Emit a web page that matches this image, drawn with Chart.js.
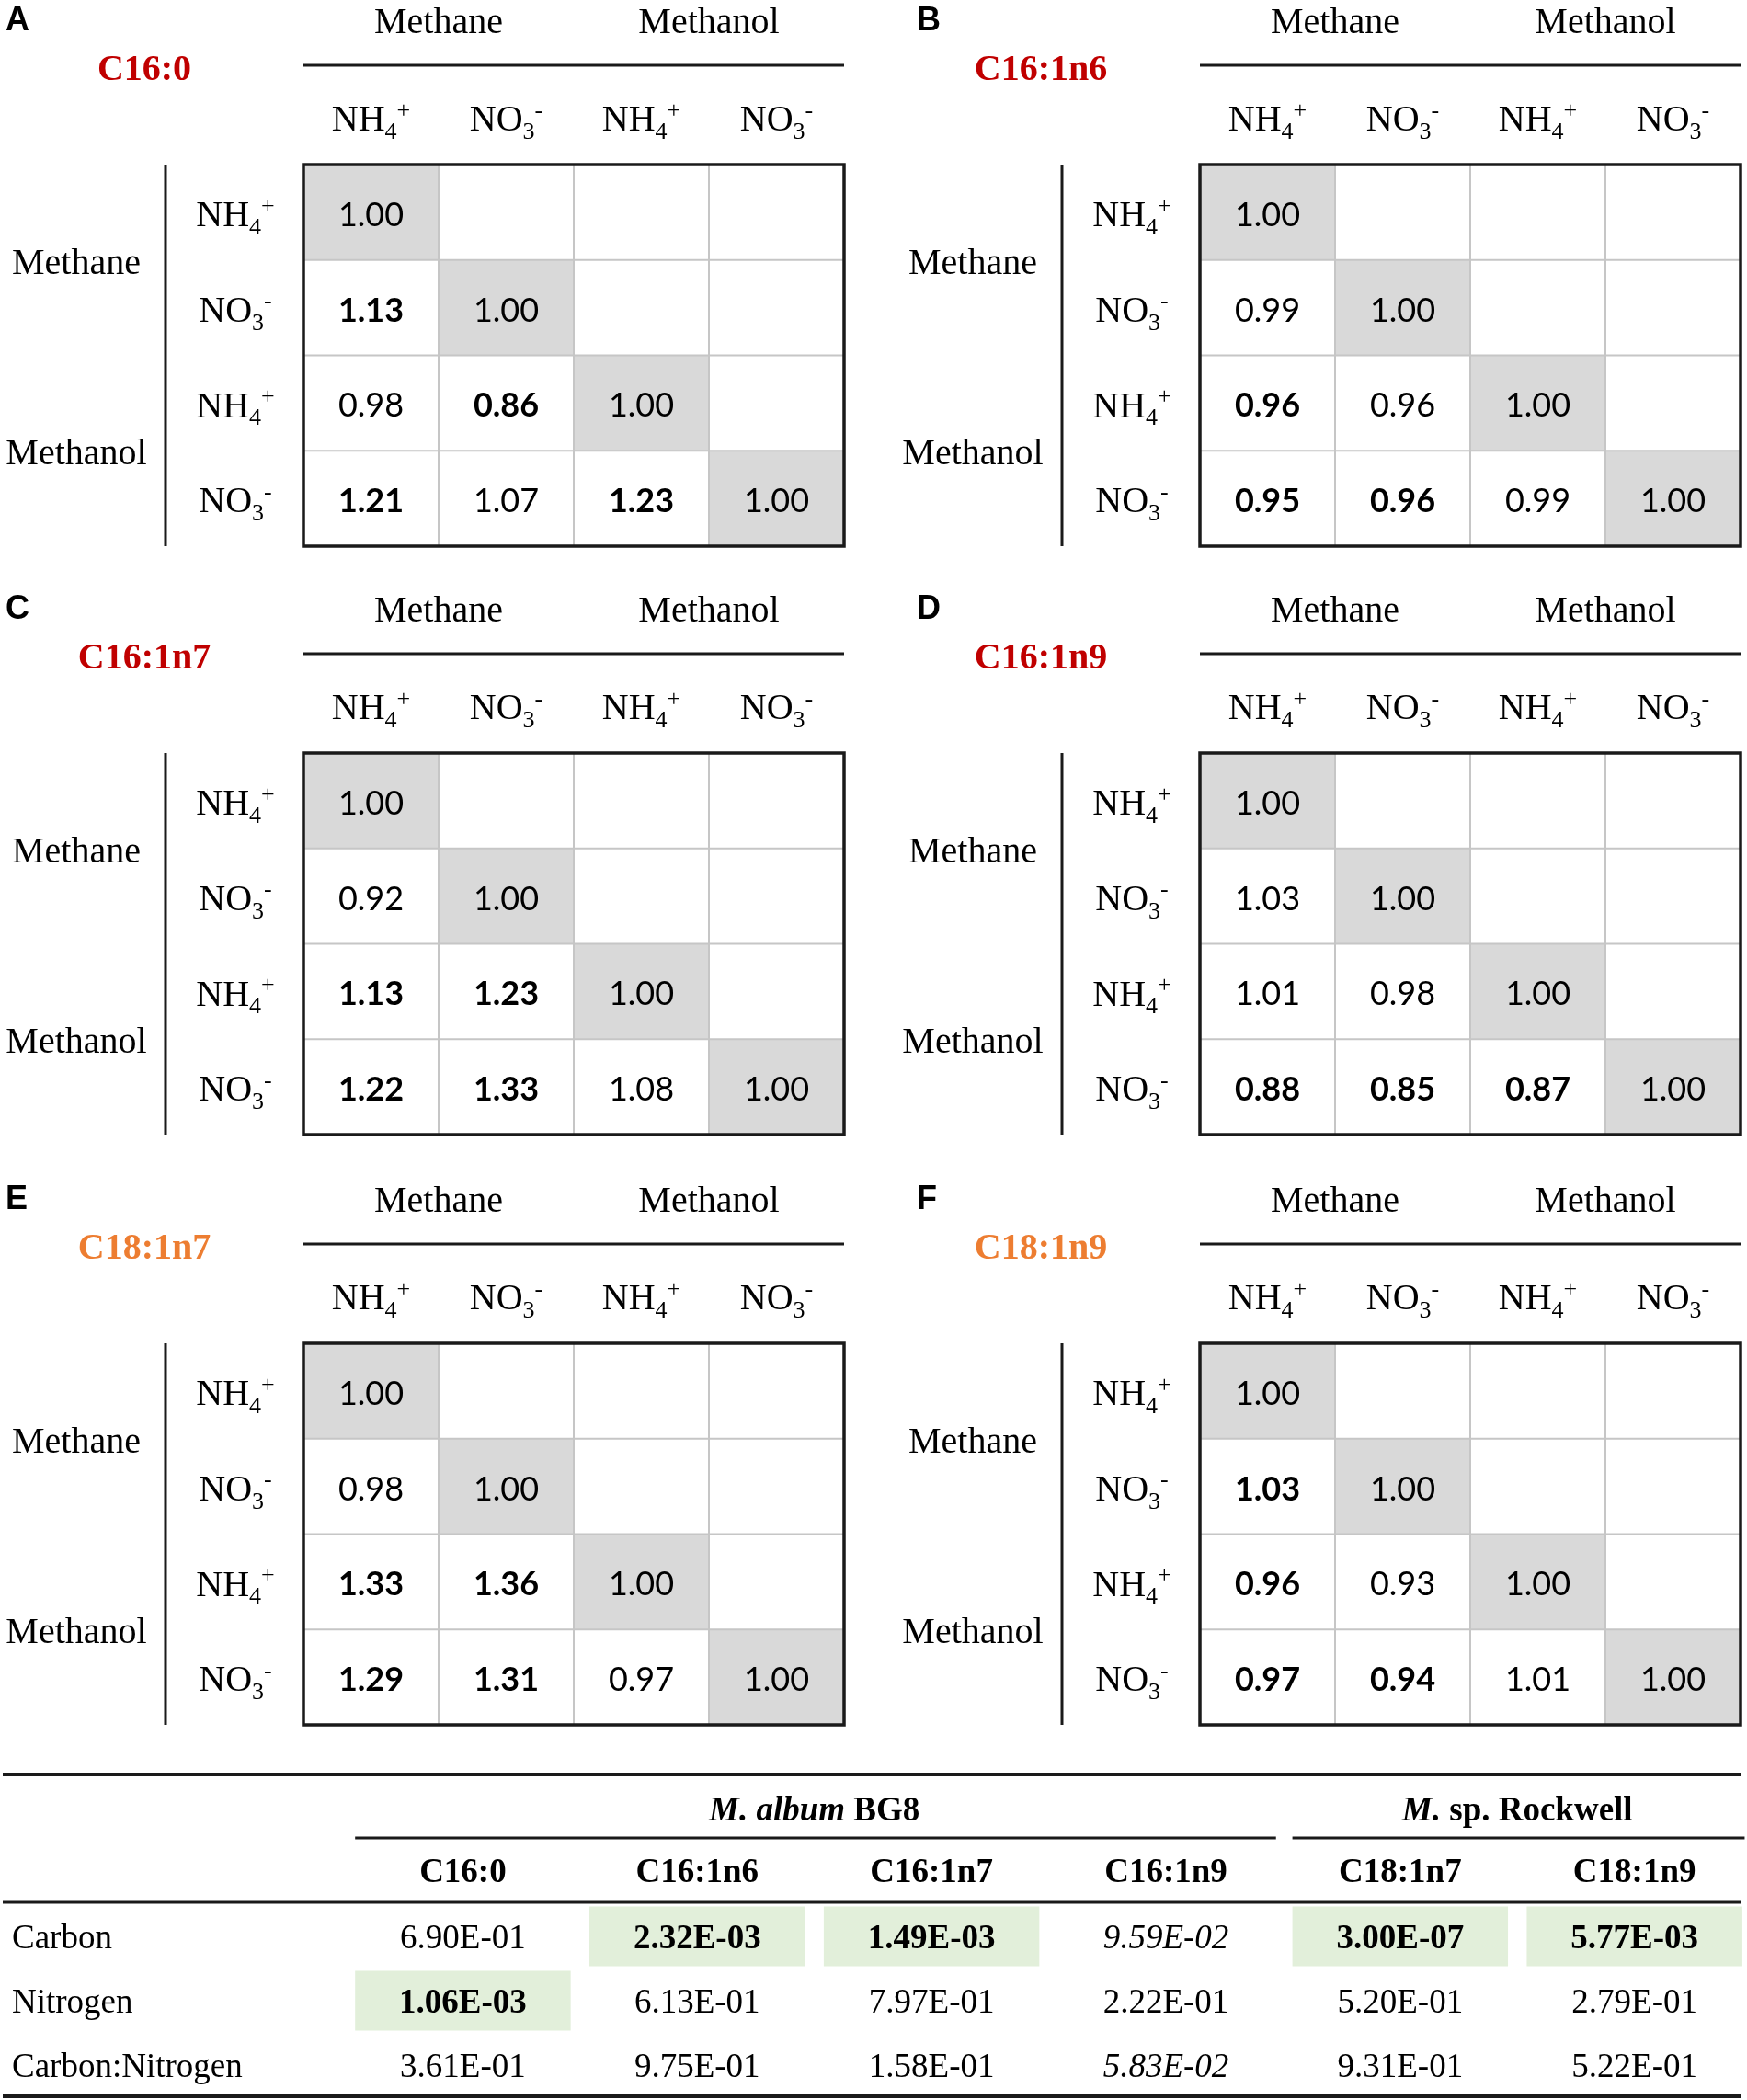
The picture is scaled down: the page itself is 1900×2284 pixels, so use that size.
<!DOCTYPE html>
<html>
<head>
<meta charset="utf-8">
<script src="https://cdn.jsdelivr.net/npm/chart.js@4.4.0/dist/chart.umd.min.js"></script>
<style>
  body { margin: 0; background: #fff; }
  #page { position: relative; width: 1900px; height: 2284px; }
  canvas { position: absolute; }
</style>
</head>
<body>
<div id="page">
  <canvas id="panelA" width="925" height="640" style="left:0;top:0"></canvas>
  <canvas id="panelB" width="925" height="640" style="left:975px;top:0"></canvas>
  <canvas id="panelC" width="925" height="640" style="left:0;top:640px"></canvas>
  <canvas id="panelD" width="925" height="640" style="left:975px;top:640px"></canvas>
  <canvas id="panelE" width="925" height="640" style="left:0;top:1282px"></canvas>
  <canvas id="panelF" width="925" height="640" style="left:975px;top:1282px"></canvas>
  <canvas id="pvalues" width="1900" height="384" style="left:0;top:1900px"></canvas>
</div>
<script>
// ---- data ----
const panelLetters = ['A', 'B', 'C', 'D', 'E', 'F'];
const fattyAcids = ['C16:0', 'C16:1n6', 'C16:1n7', 'C16:1n9', 'C18:1n7', 'C18:1n9'];
const carbonSources = ['Methane', 'Methanol'];
// ion label: [base, subscript, superscript]
const nitrogenSources = [['NH', '4', '+'], ['NO', '3', '-']];

// fold-change matrices (lower triangle, row by row)
const ratioC16_0   = [[1.00], [1.13, 1.00], [0.98, 0.86, 1.00], [1.21, 1.07, 1.23, 1.00]];
const ratioC16_1n6 = [[1.00], [0.99, 1.00], [0.96, 0.96, 1.00], [0.95, 0.96, 0.99, 1.00]];
const ratioC16_1n7 = [[1.00], [0.92, 1.00], [1.13, 1.23, 1.00], [1.22, 1.33, 1.08, 1.00]];
const ratioC16_1n9 = [[1.00], [1.03, 1.00], [1.01, 0.98, 1.00], [0.88, 0.85, 0.87, 1.00]];
const ratioC18_1n7 = [[1.00], [0.98, 1.00], [1.33, 1.36, 1.00], [1.29, 1.31, 0.97, 1.00]];
const ratioC18_1n9 = [[1.00], [1.03, 1.00], [0.96, 0.93, 1.00], [0.97, 0.94, 1.01, 1.00]];

// significant differences (shown bold)
const sigC16_0   = [[0], [1, 0], [0, 1, 0], [1, 0, 1, 0]];
const sigC16_1n6 = [[0], [0, 0], [1, 0, 0], [1, 1, 0, 0]];
const sigC16_1n7 = [[0], [0, 0], [1, 1, 0], [1, 1, 0, 0]];
const sigC16_1n9 = [[0], [0, 0], [0, 0, 0], [1, 1, 1, 0]];
const sigC18_1n7 = [[0], [0, 0], [1, 1, 0], [1, 1, 0, 0]];
const sigC18_1n9 = [[0], [1, 0], [1, 0, 0], [1, 1, 0, 0]];

// two-way ANOVA p-values
const strainNames = [{ italic: 'M. album', plain: ' BG8' }, { italic: 'M.', plain: ' sp. Rockwell' }];
const strainSpans = [[0, 4], [4, 6]];
const factors = ['Carbon', 'Nitrogen', 'Carbon:Nitrogen'];
const pCarbon = [6.90e-1, 2.32e-3, 1.49e-3, 9.59e-2, 3.00e-7, 5.77e-3];
const pNitrogen = [1.06e-3, 6.13e-1, 7.97e-1, 2.22e-1, 5.20e-1, 2.79e-1];
const pCarbonNitrogen = [3.61e-1, 9.75e-1, 1.58e-1, 5.83e-2, 9.31e-1, 5.22e-1];

// ---- styling ----
const ratios = [ratioC16_0, ratioC16_1n6, ratioC16_1n7, ratioC16_1n9, ratioC18_1n7, ratioC18_1n9];
const sigs = [sigC16_0, sigC16_1n6, sigC16_1n7, sigC16_1n9, sigC18_1n7, sigC18_1n9];
const titleColors = ['#c00000', '#c00000', '#c00000', '#c00000', '#ed7d31', '#ed7d31'];
const SERIF = '"Liberation Serif", "Times New Roman", serif';
const NUM = 'Lato, "Open Sans", sans-serif';

const treatments = [];
carbonSources.forEach(c => nitrogenSources.forEach(n => treatments.push(c + ' ' + n.join(''))));

function line(ctx, x1, y1, x2, y2) {
  ctx.beginPath(); ctx.moveTo(x1, y1); ctx.lineTo(x2, y2); ctx.stroke();
}

// base text, then subscript, then superscript (one after the other, like Word)
function drawIon(ctx, ion, cx, cy, size) {
  const small = Math.round(size * 0.64);
  ctx.font = size + 'px ' + SERIF;
  const bw = ctx.measureText(ion[0]).width;
  ctx.font = small + 'px ' + SERIF;
  const subw = ctx.measureText(ion[1]).width;
  const supw = ctx.measureText(ion[2]).width;
  const x0 = cx - (bw + subw + supw) / 2;
  const base = cy + size * 0.33;
  ctx.textAlign = 'left';
  ctx.font = size + 'px ' + SERIF;
  ctx.fillText(ion[0], x0, base);
  ctx.font = small + 'px ' + SERIF;
  ctx.fillText(ion[1], x0 + bw, base + size * 0.22);
  ctx.fillText(ion[2], x0 + bw + subw, base - size * 0.36);
}

function matrixPlugin(k) {
  return {
    id: 'matrixDecor',
    afterDatasetsDraw(chart) {
      const { ctx, chartArea: a, scales: { x, y } } = chart;
      const n = treatments.length;
      const rowC = i => y.getPixelForValue(i);
      ctx.save();
      ctx.fillStyle = '#000';
      ctx.textBaseline = 'alphabetic';

      // inner grid
      ctx.strokeStyle = '#c6c6c6';
      ctx.lineWidth = 2;
      for (let m = 1; m < n; m++) {
        const px = x.getPixelForValue(m);
        line(ctx, px, a.top, px, a.bottom);
        const py = (rowC(m - 1) + rowC(m)) / 2;
        line(ctx, a.left, py, a.right, py);
      }
      ctx.strokeStyle = '#1a1a1a';
      ctx.lineWidth = 3.5;
      ctx.strokeRect(a.left, a.top, a.width, a.height);

      // values
      ctx.textAlign = 'center';
      ratios[k].forEach((row, i) => row.forEach((v, j) => {
        ctx.font = (sigs[k][i][j] ? 'bold ' : '') + '36px ' + NUM;
        ctx.fillText(v.toFixed(2), x.getPixelForValue(j + 0.5), rowC(i) + 15);
      }));

      // panel letter + title
      ctx.textAlign = 'left';
      ctx.font = 'bold 36px "Liberation Sans", Arial, sans-serif';
      ctx.fillText(panelLetters[k], k % 2 === 0 ? 6 : 22, 33);
      ctx.textAlign = 'center';
      ctx.fillStyle = titleColors[k];
      ctx.font = 'bold 40px ' + SERIF;
      ctx.fillText(fattyAcids[k], 157, a.top - 106 + 14);
      ctx.fillStyle = '#000';

      // column headers
      carbonSources.forEach((c, m) => {
        ctx.textAlign = 'center';
        ctx.font = '40px ' + SERIF;
        ctx.fillText(c, x.getPixelForValue(2 * m + 1), a.top - 157 + 14);
      });
      ctx.strokeStyle = '#1a1a1a';
      ctx.lineWidth = 3;
      line(ctx, a.left, a.top - 108, a.right, a.top - 108);
      for (let j = 0; j < n; j++) {
        drawIon(ctx, nitrogenSources[j % 2], x.getPixelForValue(j + 0.5), a.top - 50, 40);
      }

      // row headers
      line(ctx, a.left - 150, a.top, a.left - 150, a.bottom);
      for (let i = 0; i < n; i++) {
        drawIon(ctx, nitrogenSources[i % 2], a.left - 74, rowC(i) + 2, 40);
      }
      ctx.textAlign = 'center';
      ctx.font = '40px ' + SERIF;
      carbonSources.forEach((c, m) => {
        const cy = (rowC(2 * m) + rowC(2 * m + 1)) / 2;
        ctx.fillText(c, a.left - 247, cy + 15);
      });
      ctx.restore();
    }
  };
}

panelLetters.forEach((letter, k) => {
  new Chart(document.getElementById('panel' + letter), {
    type: 'bar',
    data: {
      labels: treatments,
      datasets: [{
        label: 'self',
        data: ratios[k].map((row, i) => [row.length - 1, row.length]),
        backgroundColor: '#d9d9d9',
        borderWidth: 0,
        barPercentage: 1,
        categoryPercentage: 1
      }]
    },
    options: {
      indexAxis: 'y',
      responsive: false,
      animation: false,
      layout: { padding: { left: 330, right: 7, top: 179, bottom: 46 } },
      plugins: { legend: { display: false }, tooltip: { enabled: false } },
      scales: {
        x: { type: 'linear', min: 0, max: 4, display: false },
        y: { display: false }
      }
    },
    plugins: [matrixPlugin(k)]
  });
});

// ---- p-value table ----
const pRows = [pCarbon, pNitrogen, pCarbonNitrogen];

function fmtSci(v) {
  const [m, e] = v.toExponential(2).split('e');
  const ev = parseInt(e, 10);
  return m + 'E' + (ev < 0 ? '-' : '+') + String(Math.abs(ev)).padStart(2, '0');
}

const tablePlugin = {
  id: 'tableDecor',
  afterDatasetsDraw(chart) {
    const { ctx, chartArea: a, scales: { x, y } } = chart;
    ctx.save();
    ctx.fillStyle = '#000';
    ctx.strokeStyle = '#1a1a1a';
    ctx.textBaseline = 'alphabetic';

    ctx.lineWidth = 4;
    line(ctx, 3, 30, 1894, 30);
    line(ctx, 3, 380, 1894, 380);
    ctx.lineWidth = 3;
    line(ctx, 3, 169, 1894, 169);

    // strain headers
    strainNames.forEach((s, m) => {
      const span = strainSpans[m];
      const cx = x.getPixelForValue((span[0] + span[1]) / 2);
      ctx.font = 'italic bold 37px ' + SERIF;
      const wi = ctx.measureText(s.italic).width;
      ctx.font = 'bold 37px ' + SERIF;
      const wp = ctx.measureText(s.plain).width;
      const x0 = cx - (wi + wp) / 2;
      ctx.textAlign = 'left';
      ctx.font = 'italic bold 37px ' + SERIF;
      ctx.fillText(s.italic, x0, 80);
      ctx.font = 'bold 37px ' + SERIF;
      ctx.fillText(s.plain, x0 + wi, 80);
      line(ctx, x.getPixelForValue(span[0] + 0.04), 99, x.getPixelForValue(span[1] - 0.03), 99);
    });

    // fatty acid headers
    ctx.textAlign = 'center';
    ctx.font = 'bold 37px ' + SERIF;
    fattyAcids.forEach((fa, j) => ctx.fillText(fa, x.getPixelForValue(j + 0.5), 147));

    // rows
    factors.forEach((f, i) => {
      const cy = y.getPixelForValue(i);
      ctx.textAlign = 'left';
      ctx.font = '37px ' + SERIF;
      ctx.fillText(f, 13, cy + 13);
      ctx.textAlign = 'center';
      pRows[i].forEach((p, j) => {
        ctx.font = (p < 0.05 ? 'bold ' : p < 0.1 ? 'italic ' : '') + '37px ' + SERIF;
        ctx.fillText(fmtSci(p), x.getPixelForValue(j + 0.5), cy + 13);
      });
    });
    ctx.restore();
  }
};

new Chart(document.getElementById('pvalues'), {
  type: 'bar',
  data: {
    labels: factors,
    datasets: fattyAcids.map((fa, j) => ({
      label: fa,
      data: pRows.map(row => row[j] < 0.05 ? [j + 0.04, j + 0.96] : null),
      backgroundColor: '#e2efda',
      borderWidth: 0,
      barPercentage: 0.93,
      categoryPercentage: 1,
      grouped: false
    }))
  },
  options: {
    indexAxis: 'y',
    responsive: false,
    animation: false,
    layout: { padding: { left: 376, right: 0, top: 171, bottom: 3 } },
    plugins: { legend: { display: false }, tooltip: { enabled: false } },
    scales: {
      x: { type: 'linear', min: 0, max: 5.98, display: false },
      y: { display: false }
    }
  },
  plugins: [tablePlugin]
});
</script>
</body>
</html>
